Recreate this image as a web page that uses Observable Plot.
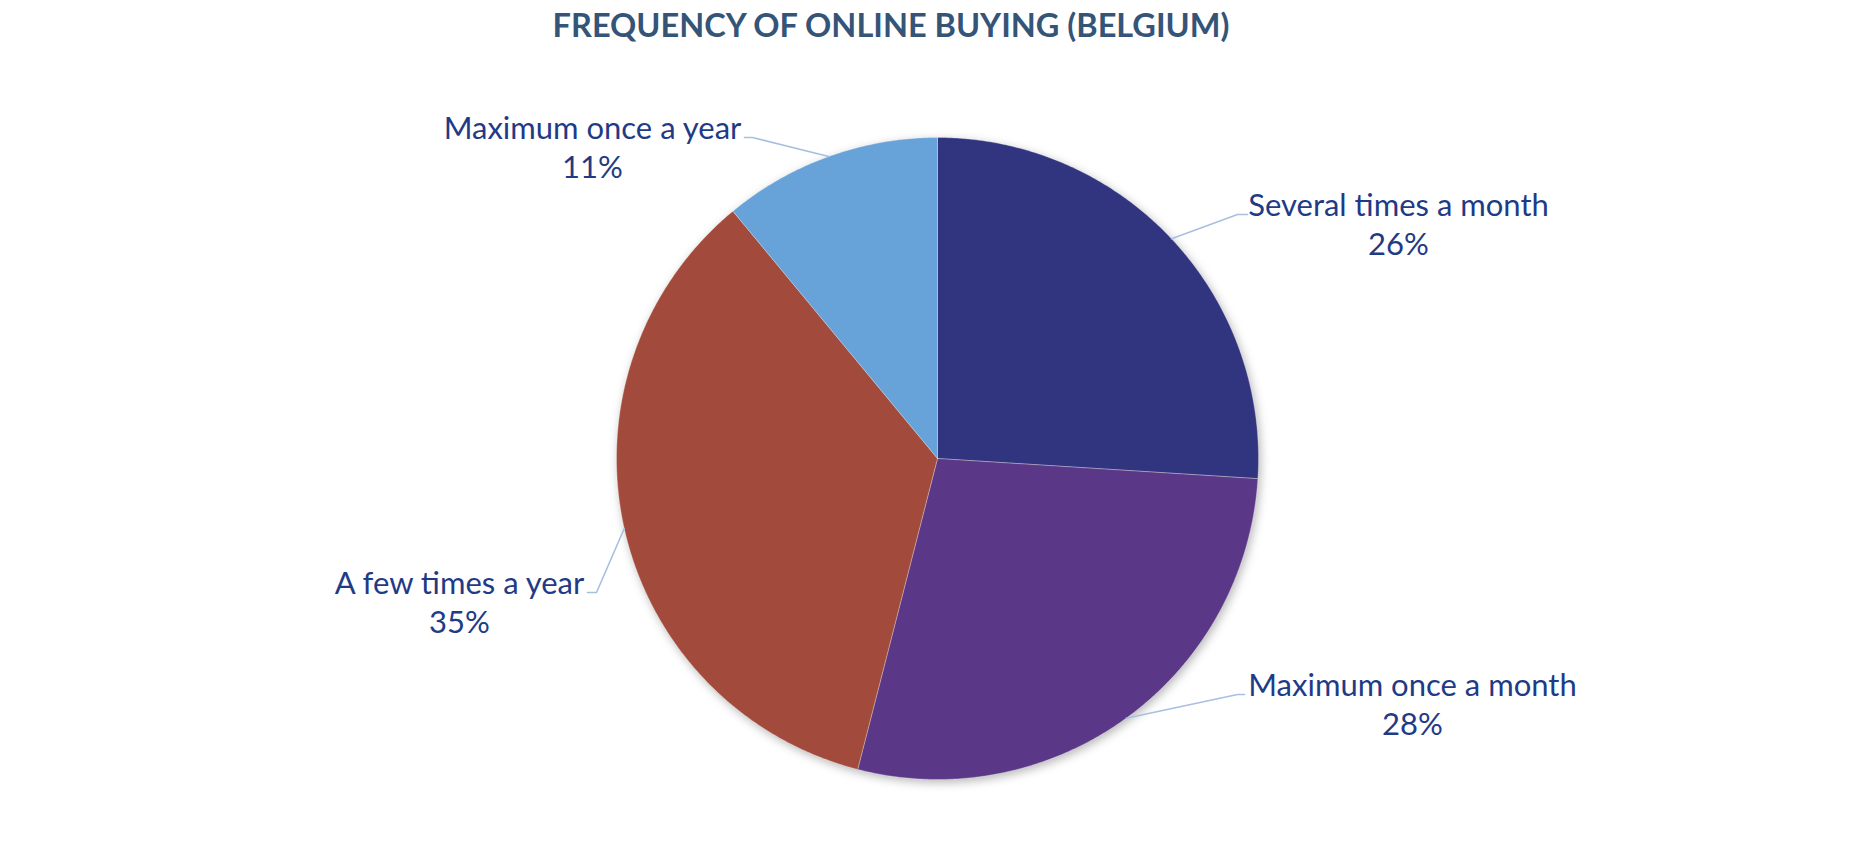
<!DOCTYPE html>
<html>
<head>
<meta charset="utf-8">
<script src="https://cdn.jsdelivr.net/npm/d3@7"></script>
<script src="https://cdn.jsdelivr.net/npm/@observablehq/plot@0.6"></script>
<style>
  html, body { margin: 0; padding: 0; background: #ffffff; }
  #title {
    width: 1782px; height: 56px; box-sizing: border-box; padding-top: 9px;
    text-align: center; font-family: Lato, "Open Sans", sans-serif; font-weight: 700;
    font-size: 32.5px; line-height: 32.5px; color: #345478; white-space: nowrap;
  }
</style>
</head>
<body>
<div id="title">FREQUENCY OF ONLINE BUYING (BELGIUM)</div>
<div id="chart"></div>
<script>
// ---- data ----
const categories = ["Several times a month", "Maximum once a month", "A few times a year", "Maximum once a year"];
const values = [26, 28, 35, 11];

// ---- styles ----
const colors = ["#31347e", "#5b3887", "#a24b3d", "#67a3d9"];
const textColor = "#1f3b86";
const leaderColor = "#a9bfdf";
const labelFont = 31;

// ---- layout (pixel units relative to pie centre) ----
const W = 1874, H = 796;
const cx = 937, cy = 402;
const radius = 321;
const labelX = [461, 475, -478, -345];          // text centre
const labelY = [-243, 237, 135, -320];          // first-line baseline
const elbowX = [300, 300, -341, -185];
const endX   = [310, 307, -350, -193];
const lineGap = 39;

// ---- geometry from values ----
const arcs = d3.pie().sort(null).startAngle(0).endAngle(2 * Math.PI).value(d => d)(values);
const pt = (a, r) => [r * Math.sin(a), -r * Math.cos(a)];

const slicePts = [];
arcs.forEach((a, i) => {
  slicePts.push({cat: categories[i], x: 0, y: 0});
  const n = Math.max(2, Math.ceil((a.endAngle - a.startAngle) / (Math.PI / 360)));
  for (let k = 0; k <= n; k++) {
    const ang = a.startAngle + (a.endAngle - a.startAngle) * k / n;
    const [x, y] = pt(ang, radius);
    slicePts.push({cat: categories[i], x, y});
  }
  slicePts.push({cat: categories[i], x: 0, y: 0});
});

const leaderPts = [];
arcs.forEach((a, i) => {
  const mid = (a.startAngle + a.endAngle) / 2;
  const [x0, y0] = pt(mid, radius);
  const ly = labelY[i] - 1;
  leaderPts.push({cat: categories[i], x: x0, y: y0});
  leaderPts.push({cat: categories[i], x: elbowX[i], y: ly});
  leaderPts.push({cat: categories[i], x: endX[i], y: ly});
});

const labels = categories.map((c, i) => ({
  cat: c, pct: `${values[i]}%`, x: labelX[i], y: labelY[i], y2: labelY[i] + lineGap
}));

const chart = Plot.plot({
  width: W, height: H,
  margin: 0,
  x: {domain: [-cx, W - cx], range: [0, W], axis: null},
  y: {domain: [-cy, H - cy], range: [0, H], axis: null},
  color: {domain: categories, range: colors},
  style: {background: "transparent"},
  marks: [
    Plot.line(slicePts, {x: "x", y: "y", z: "cat", fill: "cat", stroke: "#ffffff", strokeWidth: 0.6, strokeOpacity: 0.5, curve: "linear"}),
    Plot.line(leaderPts, {x: "x", y: "y", z: "cat", stroke: leaderColor, strokeWidth: 1.6}),
    Plot.text(labels, {x: "x", y: "y", text: "cat", fill: textColor, fontSize: labelFont, fontFamily: "Lato, 'Open Sans', sans-serif", lineAnchor: "bottom", textAnchor: "middle"}),
    Plot.text(labels, {x: "x", y: "y2", text: "pct", fill: textColor, fontSize: labelFont, fontFamily: "Lato, 'Open Sans', sans-serif", lineAnchor: "bottom", textAnchor: "middle"})
  ]
});
const pieGroup = chart.querySelector('g[aria-label="line"]');
if (pieGroup) pieGroup.style.filter = "drop-shadow(2px 3px 5px rgba(0,0,0,0.28))";
document.getElementById("chart").appendChild(chart);
</script>
</body>
</html>
